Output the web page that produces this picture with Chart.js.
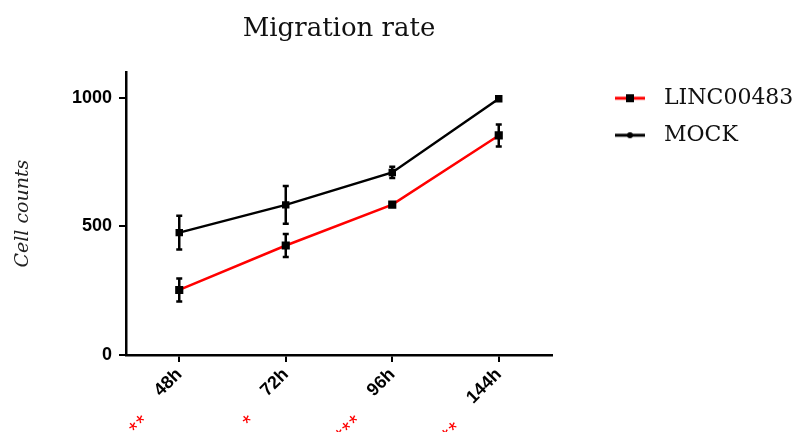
<!DOCTYPE html>
<html>
<head>
<meta charset="utf-8">
<script src="https://cdn.jsdelivr.net/npm/chart.js@4/dist/chart.umd.min.js"></script>
<style>
  html, body { margin: 0; padding: 0; background: #fff; }
  #wrap { width: 798px; height: 432px; }
</style>
</head>
<body>
<div id="wrap"><canvas id="migrationChart"></canvas></div>
<script>
// 时间点
const timePoints = ['48h', '72h', '96h', '144h'];
// 细胞计数均值
const lincCounts = [253, 426, 585, 854];
const mockCounts = [476, 584, 710, 997];
// 误差 (SD)
const lincErr = [45, 45, 5, 43];
const mockErr = [66, 73, 22, 8];
// 显著性标记
const sigMarks = ['**', '*', '***', '**'];
// y 轴刻度
const yTicks = [0, 500, 1000];

// 图例标记：线段 + 中心点
function legendMarker(color, square) {
  const c = document.createElement('canvas');
  c.width = 86;
  c.height = 10;
  const g = c.getContext('2d');
  g.strokeStyle = color;
  g.lineWidth = 3;
  g.beginPath();
  g.moveTo(48, 5);
  g.lineTo(78, 5);
  g.stroke();
  g.fillStyle = '#000';
  if (square) {
    g.fillRect(59, 1, 8, 8);
  } else {
    g.beginPath();
    g.arc(63, 5, 3, 0, Math.PI * 2);
    g.fill();
  }
  return c;
}

// 图例固定宽度
const legendWidth = {
  id: 'legendWidth',
  afterInit(chart) {
    const lg = chart.legend;
    const fit = lg.fit;
    lg.fit = function () {
      fit.call(this);
      this.width = 246;
    };
  }
};

// 误差线
const errorBars = {
  id: 'errorBars',
  afterDatasetsDraw(chart) {
    const ctx = chart.ctx;
    const y = chart.scales.y;
    const errs = [lincErr, mockErr];
    ctx.save();
    ctx.strokeStyle = '#000';
    ctx.lineWidth = 2.5;
    chart.data.datasets.forEach((ds, i) => {
      chart.getDatasetMeta(i).data.forEach((pt, j) => {
        const v = ds.data[j];
        const top = y.getPixelForValue(v + errs[i][j]);
        const bot = y.getPixelForValue(v - errs[i][j]);
        ctx.beginPath();
        ctx.moveTo(pt.x, top);
        ctx.lineTo(pt.x, bot);
        ctx.moveTo(pt.x - 3, top);
        ctx.lineTo(pt.x + 3, top);
        ctx.moveTo(pt.x - 3, bot);
        ctx.lineTo(pt.x + 3, bot);
        ctx.stroke();
      });
    });
    ctx.restore();
  }
};

// x 轴标签下方的红色星号（沿标签方向排列）
const sigStars = {
  id: 'sigStars',
  afterDraw(chart) {
    const ctx = chart.ctx;
    const x = chart.scales.x;
    const labelFont = 'bold 18px "Liberation Sans", Arial, sans-serif';
    const starFont = '22px "Liberation Sans", Arial, sans-serif';
    const adv = 9.8;
    ctx.save();
    ctx.font = starFont;
    const m = ctx.measureText('*');
    const dy = (m.actualBoundingBoxAscent - m.actualBoundingBoxDescent) / 2;
    const dx = (m.actualBoundingBoxRight - m.actualBoundingBoxLeft) / 2;
    ctx.fillStyle = '#ff0000';
    ctx.textAlign = 'left';
    ctx.textBaseline = 'alphabetic';
    timePoints.forEach((lab, i) => {
      ctx.font = labelFont;
      const w = ctx.measureText(lab).width;
      ctx.font = starFont;
      const px = x.getPixelForValue(i);
      ctx.save();
      ctx.translate(px, x.top);
      ctx.rotate(-Math.PI / 4);
      for (let k = 0; k < sigMarks[i].length; k++) {
        const cx = -(w + 37) - adv / 2 - k * adv;
        ctx.fillText('*', cx - dx, 17.7 + dy);
      }
      ctx.restore();
    });
    ctx.restore();
  }
};

new Chart(document.getElementById('migrationChart'), {
  type: 'line',
  data: {
    labels: timePoints,
    datasets: [{
      label: 'LINC00483',
      data: lincCounts,
      borderColor: '#ff0000',
      borderWidth: 2.5,
      pointStyle: 'rect',
      pointRadius: 4,
      pointBackgroundColor: '#000',
      pointBorderColor: '#000',
      tension: 0
    }, {
      label: 'MOCK',
      data: mockCounts,
      borderColor: '#000',
      borderWidth: 2.5,
      pointStyle: 'rect',
      pointRadius: 3.5,
      pointBackgroundColor: '#000',
      pointBorderColor: '#000',
      tension: 0
    }]
  },
  options: {
    responsive: true,
    maintainAspectRatio: false,
    animation: false,
    layout: { padding: { left: 10, right: 0, top: 0, bottom: 0 } },
    scales: {
      x: {
        offset: true,
        grid: { display: true, drawOnChartArea: false, color: '#000', lineWidth: 2, tickLength: 7, offset: false },
        border: { color: '#000', width: 2.5 },
        ticks: {
          color: '#000',
          font: { family: '"Liberation Sans", Arial, sans-serif', size: 18, weight: 'bold' },
          minRotation: 45,
          maxRotation: 45,
          padding: 2
        },
        afterFit(s) { s.height = 77; }
      },
      y: {
        min: 0,
        max: 1100,
        afterBuildTicks(s) { s.ticks = yTicks.map(v => ({ value: v })); },
        afterFit(s) { s.width = 116; },
        grid: { display: true, drawOnChartArea: false, color: '#000', lineWidth: 2, tickLength: 7 },
        border: { color: '#000', width: 2.5 },
        ticks: {
          color: '#000',
          font: { family: '"Liberation Sans", Arial, sans-serif', size: 18, weight: 'bold' },
          padding: 7,
          callback: v => String(v)
        },
        title: {
          display: true,
          text: 'Cell counts',
          color: '#222',
          font: { family: '"DejaVu Serif", serif', size: 19, style: 'italic' },
          padding: { top: 2, bottom: 0 }
        }
      }
    },
    plugins: {
      title: {
        display: true,
        text: 'Migration rate',
        fullSize: false,
        color: '#111',
        font: { family: '"DejaVu Serif", serif', size: 26, weight: 'normal' },
        padding: { top: 14, bottom: 27 }
      },
      legend: {
        position: 'right',
        align: 'start',
        fullSize: false,
        labels: {
          usePointStyle: true,
          pointStyleWidth: 86,
          padding: 15,
          color: '#111',
          font: { family: '"DejaVu Serif", serif', size: 22 },
          generateLabels(chart) {
            return chart.data.datasets.map((ds, i) => ({
              text: ds.label,
              pointStyle: legendMarker(ds.borderColor, i === 0),
              fillStyle: 'transparent',
              strokeStyle: 'transparent',
              lineWidth: 0,
              fontColor: '#111',
              datasetIndex: i
            }));
          }
        }
      },
      tooltip: { enabled: false }
    }
  },
  plugins: [legendWidth, errorBars, sigStars]
});
</script>
</body>
</html>
